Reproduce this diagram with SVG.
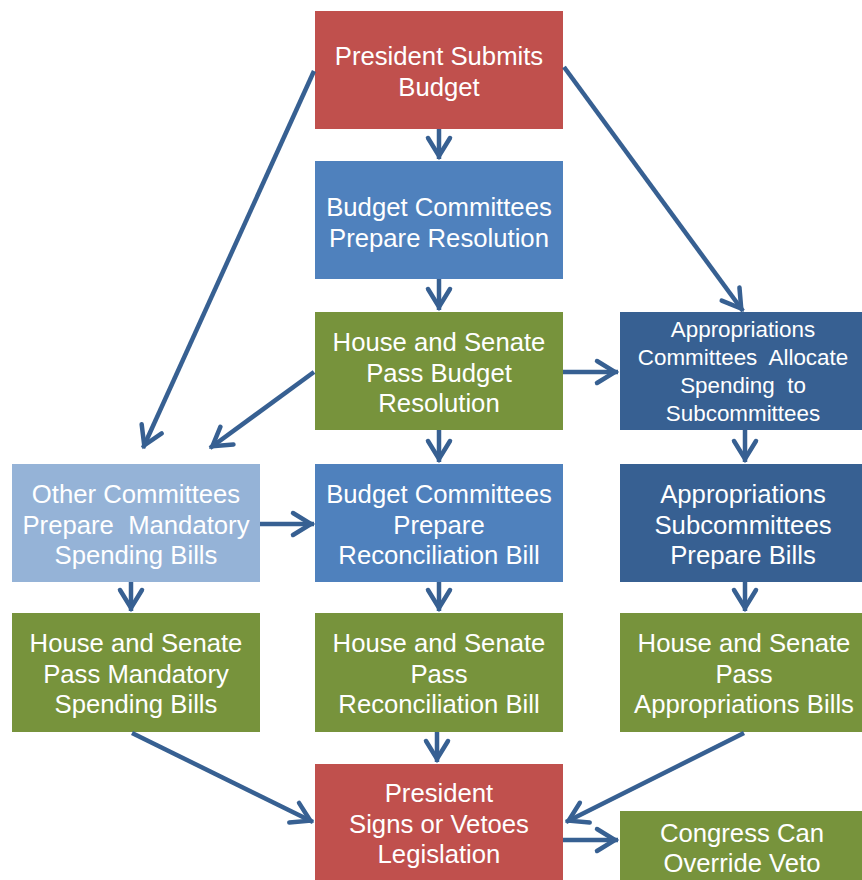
<svg xmlns="http://www.w3.org/2000/svg" width="862" height="880" viewBox="0 0 862 880">
<style>
.t{font-family:"Liberation Sans",Arial,sans-serif;font-size:25.7px;fill:#fff;text-anchor:middle}
.s{font-size:22.4px}
.c{fill:none;stroke:#376092;stroke-width:4.5;marker-end:url(#ah)}
.red{fill:#C0504D}.blu{fill:#4F81BD}.grn{fill:#77933C}.dbl{fill:#376092}.lbl{fill:#95B3D7}
</style>
<defs>
<marker id="ah" markerUnits="userSpaceOnUse" orient="auto" overflow="visible" markerWidth="1" markerHeight="1" refX="0" refY="0">
<path d="M-21,-11 L-3,0 L-21,11" fill="none" stroke="#376092" stroke-width="4.5" stroke-linecap="round" stroke-linejoin="miter"/>
</marker>
</defs>
<rect width="862" height="880" fill="#fff"/>
<g id="n1"><rect class="red" x="315" y="11" width="248" height="118"/><text class="t" x="439" y="65">President Submits</text><text class="t" x="439" y="95.5">Budget</text></g>
<g id="n2"><rect class="blu" x="315" y="161" width="248" height="118"/><text class="t" x="439" y="216">Budget Committees</text><text class="t" x="439" y="246.5">Prepare Resolution</text></g>
<g id="n3"><rect class="grn" x="315" y="312" width="248" height="118"/><text class="t" x="439" y="351">House and Senate</text><text class="t" x="439" y="381.5">Pass Budget</text><text class="t" x="439" y="412">Resolution</text></g>
<g id="n4"><rect class="dbl" x="620" y="312" width="242" height="118"/><text class="t s" x="743" y="337">Appropriations</text><text class="t s" x="743" y="365" xml:space="preserve">Committees  Allocate</text><text class="t s" x="743" y="393" xml:space="preserve">Spending  to</text><text class="t s" x="743" y="421">Subcommittees</text></g>
<g id="n5"><rect class="lbl" x="12" y="464" width="248" height="118"/><text class="t" x="136" y="503">Other Committees</text><text class="t" x="136" y="533.5" xml:space="preserve">Prepare  Mandatory</text><text class="t" x="136" y="564">Spending Bills</text></g>
<g id="n6"><rect class="blu" x="315" y="464" width="248" height="118"/><text class="t" x="439" y="503">Budget Committees</text><text class="t" x="439" y="533.5">Prepare</text><text class="t" x="439" y="564">Reconciliation Bill</text></g>
<g id="n7"><rect class="dbl" x="620" y="464" width="242" height="118"/><text class="t" x="743" y="503">Appropriations</text><text class="t" x="743" y="533.5">Subcommittees</text><text class="t" x="743" y="564">Prepare Bills</text></g>
<g id="n8"><rect class="grn" x="12" y="613" width="248" height="119"/><text class="t" x="136" y="652">House and Senate</text><text class="t" x="136" y="682.5">Pass Mandatory</text><text class="t" x="136" y="713">Spending Bills</text></g>
<g id="n9"><rect class="grn" x="315" y="613" width="248" height="119"/><text class="t" x="439" y="652">House and Senate</text><text class="t" x="439" y="682.5">Pass</text><text class="t" x="439" y="713">Reconciliation Bill</text></g>
<g id="n10"><rect class="grn" x="620" y="613" width="242" height="119"/><text class="t" x="744" y="652">House and Senate</text><text class="t" x="744" y="682.5">Pass</text><text class="t" x="744" y="713">Appropriations Bills</text></g>
<g id="n11"><rect class="red" x="315" y="764" width="248" height="116"/><text class="t" x="439" y="802">President</text><text class="t" x="439" y="832.5">Signs or Vetoes</text><text class="t" x="439" y="863">Legislation</text></g>
<g id="n12"><rect class="grn" x="620" y="811" width="242" height="69"/><text class="t" x="742" y="842">Congress Can</text><text class="t" x="742" y="872">Override Veto</text></g>
<g id="connectors">
<line class="c" x1="439" y1="129" x2="439" y2="159"/>
<line class="c" x1="439" y1="279" x2="439" y2="310"/>
<line class="c" x1="439" y1="430" x2="439" y2="462"/>
<line class="c" x1="439" y1="582" x2="439" y2="611"/>
<line class="c" x1="437" y1="732" x2="437" y2="762"/>
<line class="c" x1="563" y1="372" x2="618" y2="372"/>
<line class="c" x1="564" y1="67" x2="743" y2="311"/>
<line class="c" x1="314" y1="71" x2="143" y2="448"/>
<line class="c" x1="314" y1="372" x2="210" y2="448"/>
<line class="c" x1="260" y1="524" x2="314" y2="524"/>
<line class="c" x1="745" y1="430" x2="745" y2="462"/>
<line class="c" x1="745" y1="582" x2="745" y2="611"/>
<line class="c" x1="131" y1="582" x2="131" y2="611"/>
<line class="c" x1="132" y1="733" x2="313" y2="822"/>
<line class="c" x1="744" y1="733" x2="566" y2="822"/>
<line class="c" x1="563" y1="840" x2="618" y2="840"/>
</g>
</svg>
